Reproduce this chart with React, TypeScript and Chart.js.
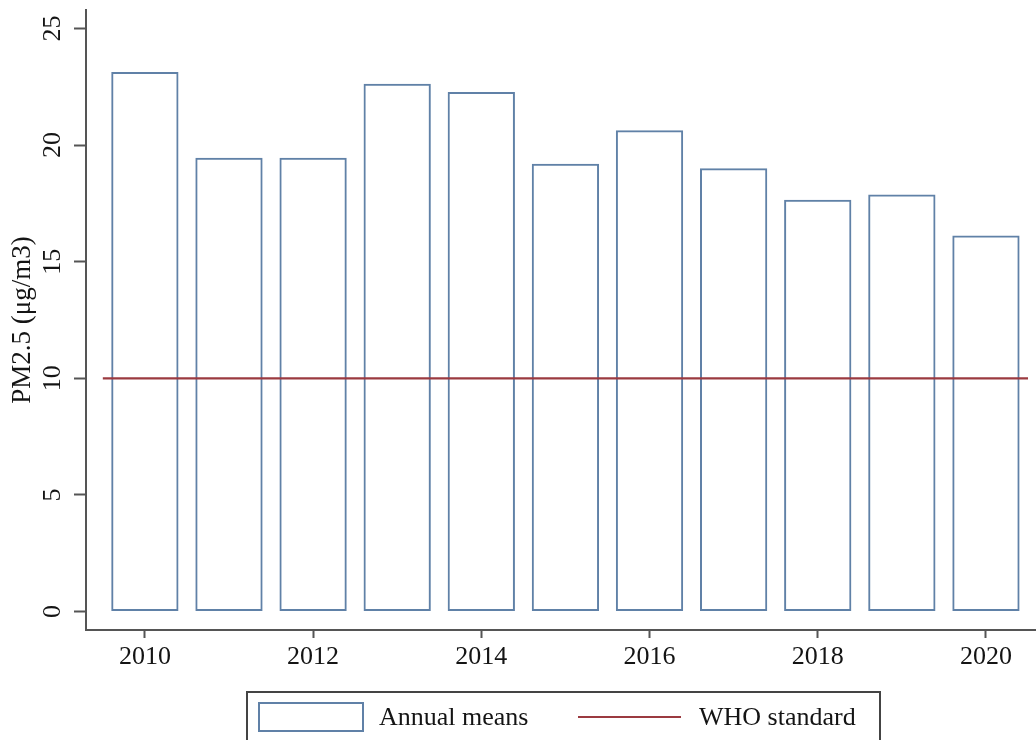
import { useEffect, useRef } from 'react';
import { Chart, registerables } from 'chart.js';

Chart.register(...registerables);

const years = [2010, 2011, 2012, 2013, 2014, 2015, 2016, 2017, 2018, 2019, 2020];
const annualMeans = [23.13, 19.46, 19.46, 22.63, 22.27, 19.2, 20.63, 19.01, 17.65, 17.88, 16.12];
const whoStandard = 10;
const whoSpan = [2009.5, 2020.5];
const xTickYears = [2010, 2012, 2014, 2016, 2018, 2020];
const yTickValues = [0, 5, 10, 15, 20, 25];
const seriesLabels = ['Annual means', 'WHO standard'];
const yTitle = 'PM2.5 (μg/m3)';

const FONT = "'Liberation Serif', 'Times New Roman', serif";
const BLUE = '#6081a7';
const RED = '#9b3a40';
const AXIS = '#555555';
const TEXT = '#141414';

const W = 1036;
const H = 740;

const overlayPlugin = {
  id: 'stataOverlay',
  afterDraw(chart: any) {
    const ctx = chart.ctx as CanvasRenderingContext2D;
    const yScale = chart.scales.y;
    // rotated y tick labels
    ctx.save();
    ctx.fillStyle = TEXT;
    ctx.font = `26px ${FONT}`;
    ctx.textAlign = 'center';
    ctx.textBaseline = 'middle';
    for (const t of yScale.ticks) {
      const y = yScale.getPixelForValue(t.value);
      ctx.save();
      ctx.translate(yScale.right - 33, y);
      ctx.rotate(-Math.PI / 2);
      ctx.fillText(String(t.value), 0, 0);
      ctx.restore();
    }
    ctx.restore();

    // legend
    const ds = chart.data.datasets;
    const barDs = ds.find((d: any) => d.type === 'bar');
    const lineDs = ds.find((d: any) => d.type === 'line');
    const left = 247;
    const top = 692;
    const right = 880;
    const cy = 717;
    ctx.save();
    ctx.strokeStyle = '#444';
    ctx.lineWidth = 2;
    ctx.strokeRect(left, top, right - left, 60);
    ctx.strokeStyle = barDs.borderColor;
    ctx.lineWidth = 2;
    ctx.strokeRect(259, 703, 104, 28);
    ctx.fillStyle = TEXT;
    ctx.font = `26px ${FONT}`;
    ctx.textAlign = 'left';
    ctx.textBaseline = 'middle';
    ctx.fillText(barDs.label, 379, cy + 1);
    ctx.strokeStyle = lineDs.borderColor;
    ctx.lineWidth = 2;
    ctx.beginPath();
    ctx.moveTo(578, cy);
    ctx.lineTo(681, cy);
    ctx.stroke();
    ctx.fillText(lineDs.label, 699, cy + 1);
    ctx.restore();
  },
};

export default function App() {
  const ref = useRef<HTMLCanvasElement | null>(null);

  useEffect(() => {
    if (!ref.current) return;
    const chart = new Chart(ref.current, {
      type: 'bar',
      data: {
        datasets: [
          {
            type: 'line',
            label: seriesLabels[1],
            data: whoSpan.map((x) => ({ x, y: whoStandard })),
            borderColor: RED,
            borderWidth: 2.2,
            pointRadius: 0,
            fill: false,
            order: 0,
          } as any,
          {
            type: 'bar',
            label: seriesLabels[0],
            data: years.map((x, i) => ({ x, y: annualMeans[i] })),
            backgroundColor: 'rgba(255,255,255,0)',
            borderColor: BLUE,
            borderWidth: 2,
            borderSkipped: false,
            barPercentage: 0.8,
            categoryPercentage: 1,
            order: 1,
          } as any,
        ],
      },
      options: {
        animation: false,
        responsive: false,
        devicePixelRatio: 1,
        layout: { padding: { left: 0, right: 0, top: 10, bottom: 0 } },
        plugins: {
          legend: { display: false },
          tooltip: { enabled: false },
        },
        scales: {
          x: {
            type: 'linear',
            min: 2009.3,
            max: 2020.595,
            offset: false,
            afterBuildTicks: (scale: any) => {
              scale.ticks = xTickYears.map((v) => ({ value: v }));
            },
            afterFit: (scale: any) => {
              scale.height = 110;
            },
            grid: {
              offset: false,
              drawOnChartArea: false,
              drawTicks: true,
              tickLength: 8,
              tickColor: AXIS,
              tickWidth: 2,
            },
            border: { display: true, color: AXIS, width: 2 },
            ticks: {
              color: TEXT,
              font: { family: FONT, size: 26 },
              padding: 4,
              maxRotation: 0,
              minRotation: 0,
              autoSkip: false,
              callback: (v: any) => String(v),
            },
          },
          y: {
            type: 'linear',
            min: -0.79,
            max: 25.79,
            afterBuildTicks: (scale: any) => {
              scale.ticks = yTickValues.map((v) => ({ value: v }));
            },
            afterFit: (scale: any) => {
              scale.width = 86;
            },
            grid: {
              drawOnChartArea: false,
              drawTicks: true,
              tickLength: 12,
              tickColor: AXIS,
              tickWidth: 2,
            },
            border: { display: true, color: AXIS, width: 2 },
            ticks: { display: false },
            title: {
              display: true,
              text: yTitle,
              color: TEXT,
              font: { family: FONT, size: 27 },
              padding: { top: 7, bottom: 0 },
            },
          },
        },
      },
      plugins: [overlayPlugin],
    });
    return () => chart.destroy();
  }, []);

  return (
    <div
      style={{
        position: 'absolute',
        left: 0,
        top: 0,
        width: W,
        height: H,
        overflow: 'hidden',
        background: '#fff',
      }}
    >
      <canvas ref={ref} width={W} height={H} style={{ display: 'block' }} />
    </div>
  );
}
